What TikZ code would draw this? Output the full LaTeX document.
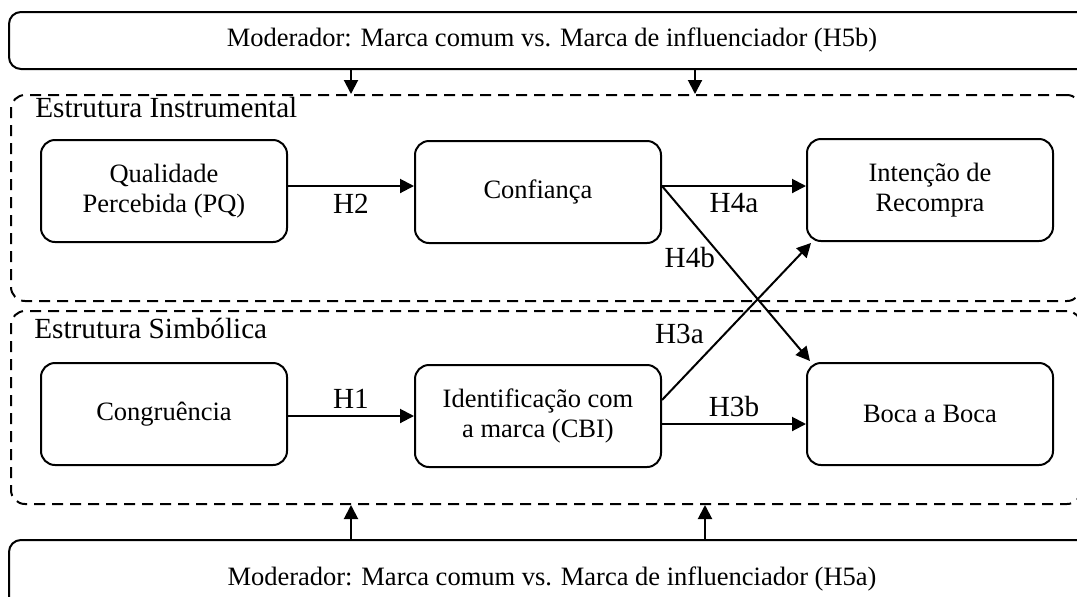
\documentclass[tikz,border=0pt]{standalone}
\usepackage{fontspec}
\setmainfont{Liberation Serif}
\usetikzlibrary{positioning, calc, arrows.meta}

\tikzset{
  construct/.style={draw, rectangle, rounded corners=7pt, line width=1pt,
    minimum width=123pt, minimum height=51pt, align=center,
    font=\fontsize{13.25}{15}\selectfont},
  grp/.style={draw, rectangle, line width=1pt, dash pattern=on 5.5pt off 3.5pt,
    rounded corners=7pt, anchor=north west},
  modbox/.style={draw, rectangle, line width=1pt, rounded corners=6pt,
    anchor=north west},
  modtext/.style={font=\fontsize{13.25}{15}\selectfont},
  grptitle/.style={anchor=base west, inner sep=0pt,
    font=\fontsize{14.6}{17}\selectfont},
  hyp/.style={font=\fontsize{14.6}{17}\selectfont},
  arr/.style={-{Triangle[length=7pt, width=7pt]}, line width=1pt},
}

\begin{document}
\begin{tikzpicture}[x={(0.5pt,0)}, y={(0,-0.5pt)}]
        \clip (0,0) rectangle (1077,596);
        \node (topmod) [modbox, minimum width=546pt, minimum height=28.5pt] at (8,11) {};
        \node (topmodtxt) [modtext] at (552,40)
        {Moderador: Marca comum vs. Marca de influenciador (H5b)};
        \node (botmod) [modbox, minimum width=546pt, minimum height=40pt] at (8,539) {};
        \node (botmodtxt) [modtext] at (552,579)
        {Moderador: Marca comum vs. Marca de influenciador (H5a)};
        \node (instr) [grp, minimum width=535pt, minimum height=103pt] at (10,94) {};
        \node (symb) [grp, minimum width=535pt, minimum height=96.5pt] at (10,310) {};
        \node (instrlbl) [grptitle] at (35,117) {Estrutura Instrumental};
        \node (symblbl) [grptitle] at (34,338) {Estrutura Simbólica};

        \node (PQ) [construct] at (164,191) {Qualidade\\Percebida (PQ)};
        \node (Conf) [construct] at (538,192) {Confiança};
        \node (Int) [construct] at (930,190) {Intenção de\\Recompra};
        \node (Cong) [construct] at (164,414) {Congruência};
        \node (CBI) [construct] at (538,416) {Identificação com\\a marca (CBI)};
        \node (Boca) [construct] at (930,414) {Boca a Boca};

        \coordinate (m1) at (351,0);
        \coordinate (m2) at (695,0);
        \coordinate (m3) at (351,0);
        \coordinate (m4) at (705,0);
        \draw [arr] (m1 |- topmod.south) -- (m1 |- instr.north);
        \draw [arr] (m2 |- topmod.south) -- (m2 |- instr.north);
        \draw [arr] (m3 |- botmod.north) -- (m3 |- symb.south);
        \draw [arr] (m4 |- botmod.north) -- (m4 |- symb.south);

        \coordinate (h2) at ($(Conf.west) + (0,-6)$);
        \coordinate (h4a) at ($(Conf.east) + (0,-6)$);
        \coordinate (h3b) at ($(CBI.east) + (0,8)$);
        \coordinate (h3a) at ($(CBI.east) + (0,-16)$);
        \draw [arr] (PQ.east |- h2) -- (h2) node [hyp, midway, below] {H2};
        \draw [arr] (h4a) -- (Int.west |- h4a) node [hyp, midway, below] {H4a};
        \draw [arr] (h4a) -- ($(Boca.north west) + (4,-1)$) node [hyp, pos=0.41, left] {H4b};
        \draw [arr] (Cong.east |- CBI.west) -- (CBI.west) node [hyp, midway, above] {H1};
        \draw [arr] (h3b) -- (Boca.west |- h3b) node [hyp, midway, above] {H3b};
        \draw [arr] (h3a) -- ($(Int.south west) + (5,1)$) node [hyp, pos=0.42, left=6.6pt] {H3a};
    \end{tikzpicture}
\end{document}
